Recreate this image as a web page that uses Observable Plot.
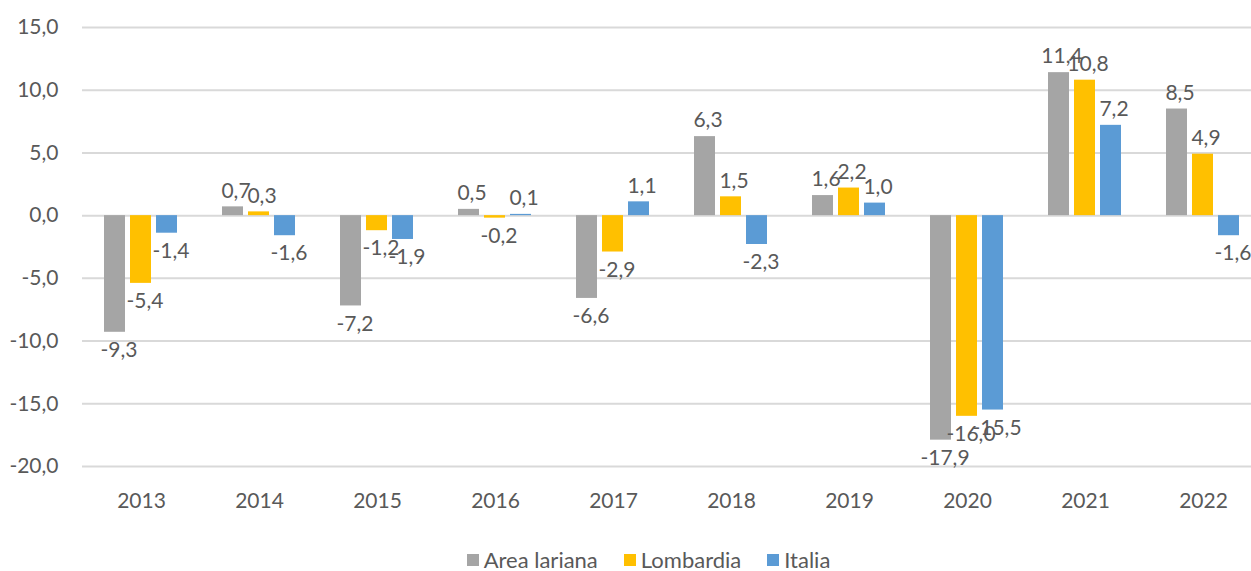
<!DOCTYPE html>
<html>
<head>
<meta charset="utf-8">
<script src="https://cdn.jsdelivr.net/npm/d3@7"></script>
<script src="https://cdn.jsdelivr.net/npm/@observablehq/plot@0.6"></script>
<style>
  body { margin: 0; background: #fff; font-family: Lato, "Open Sans", sans-serif; overflow: hidden; }
  #legend { display: flex; justify-content: center; align-items: center; height: 20px; line-height: 20px; margin-top: 20px; font-size: 22px; color: #595959; padding-left: 46px; }
  .item { display: flex; align-items: center; margin: 0 13px; }
  .sw { width: 12px; height: 12px; margin-right: 5px; }
</style>
</head>
<body>
<div id="chart"></div>
<div id="legend"></div>
<script>
const years = ["2013","2014","2015","2016","2017","2018","2019","2020","2021","2022"];
const series = ["Area lariana", "Lombardia", "Italia"];
const areaLariana = [-9.3, 0.7, -7.2, 0.5, -6.6, 6.3, 1.6, -17.9, 11.4, 8.5];
const lombardia  = [-5.4, 0.3, -1.2, -0.2, -2.9, 1.5, 2.2, -16.0, 10.8, 4.9];
const italia     = [-1.4, -1.6, -1.9, 0.1, 1.1, -2.3, 1.0, -15.5, 7.2, -1.6];
const colors = ["#A5A5A5", "#FFC000", "#5B9BD5"];
const yTicks = [-20, -15, -10, -5, 0, 5, 10, 15];

const values = [areaLariana, lombardia, italia];
const data = [];
years.forEach((y, i) => series.forEach((s, j) => data.push({year: y, series: s, value: values[j][i]})));

const fmt = v => v.toFixed(1).replace(".", ",");
const FS = 21;

const chart = Plot.plot({
  width: 1251,
  height: 530,
  marginLeft: 82,
  marginRight: 0,
  marginTop: 27,
  marginBottom: 64,
  style: {fontFamily: "Lato, 'Open Sans', sans-serif", fontSize: FS + "px", color: "#595959", background: "#fff", overflow: "hidden"},
  fx: {domain: years, padding: 0, range: [81, 1263], label: null},
  x: {domain: series, padding: 0.18, paddingOuter: 0.84, axis: null},
  y: {domain: [-20, 15], label: null},
  color: {domain: series, range: colors},
  marks: [
    Plot.ruleY(yTicks, {stroke: "#D9D9D9", strokeWidth: 2}),
    Plot.axisY(yTicks, {tickSize: 0, tickPadding: 24, tickFormat: fmt, fill: "#595959", fontSize: FS, label: null}),
    Plot.axisFx({anchor: "bottom", tickSize: 0, tickPadding: 27, fill: "#595959", fontSize: FS, label: null}),
    Plot.barY(data, {fx: "year", x: "series", y: "value", fill: "series"}),
    Plot.text(data.filter(d => d.value >= 0), {fx: "year", x: "series", y: "value", text: d => fmt(d.value),
      dy: -16, dx: 3, fill: "#595959", fontSize: FS}),
    Plot.text(data.filter(d => d.value < 0), {fx: "year", x: "series", y: "value", text: d => fmt(d.value),
      dy: 18, dx: 4, fill: "#595959", fontSize: FS})
  ]
});
document.getElementById("chart").appendChild(chart);

const legend = document.getElementById("legend");
series.forEach((s, i) => {
  const it = document.createElement("div");
  it.className = "item";
  it.innerHTML = `<span class="sw" style="background:${colors[i]}"></span><span>${s}</span>`;
  legend.appendChild(it);
});
</script>
</body>
</html>
